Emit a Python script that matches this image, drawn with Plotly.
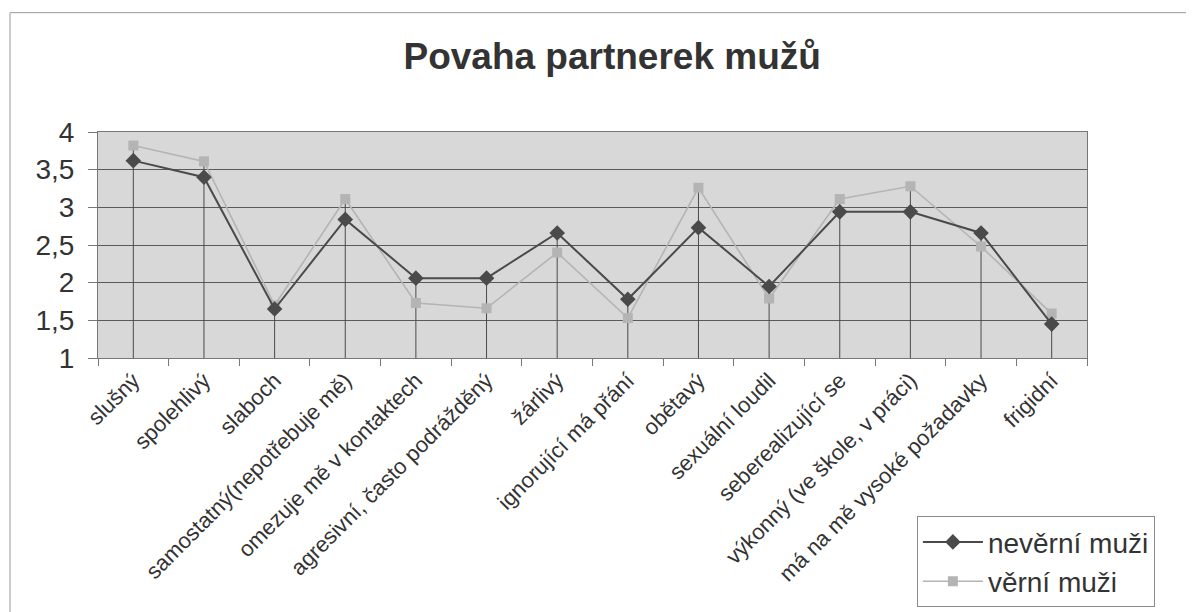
import plotly.graph_objects as go

# categories and values
kategorie = [
    "slušný",
    "spolehlivý",
    "slaboch",
    "samostatný(nepotřebuje mě)",
    "omezuje mě v kontaktech",
    "agresivní, často podrážděný",
    "žárlivý",
    "ignorující má přání",
    "obětavý",
    "sexuální loudil",
    "seberealizující se",
    "výkonný (ve škole, v práci)",
    "má na mě vysoké požadavky",
    "frigidní",
]
neverni = [3.62, 3.40, 1.65, 2.84, 2.06, 2.06, 2.66, 1.78, 2.73, 1.95, 2.94, 2.94, 2.66, 1.45]
verni = [3.82, 3.61, 1.70, 3.11, 1.73, 1.66, 2.40, 1.53, 3.26, 1.79, 3.11, 3.28, 2.48, 1.59]
y_ticks = [1, 1.5, 2, 2.5, 3, 3.5, 4]

FONT = "Arial, Liberation Sans, sans-serif"

# drop lines from the higher point of each category down to the axis
drop_x, drop_y = [], []
for k, a, b in zip(kategorie, neverni, verni):
    drop_x += [k, k, None]
    drop_y += [y_ticks[0], max(a, b), None]

fig = go.Figure()
fig.add_trace(go.Scatter(
    x=drop_x, y=drop_y, mode="lines",
    line=dict(color="#4a4a4a", width=1),
    showlegend=False, hoverinfo="skip",
))
fig.add_trace(go.Scatter(
    x=kategorie, y=verni, name="věrní muži", mode="lines+markers",
    line=dict(color="#b4b4b4", width=1.6),
    marker=dict(symbol="square", size=10, color="#b4b4b4"),
    legendrank=2,
))
fig.add_trace(go.Scatter(
    x=kategorie, y=neverni, name="nevěrní muži", mode="lines+markers",
    line=dict(color="#4a4a4a", width=2),
    marker=dict(symbol="diamond", size=12, color="#4a4a4a"),
    legendrank=1,
))

# the page body adds an 8px offset, so margins are shifted to compensate
fig.update_layout(
    width=1194, height=612,
    margin=dict(l=90, r=115, t=124, b=257),
    paper_bgcolor="white",
    plot_bgcolor="#d8d8d8",
    separators=", ",
    font=dict(family=FONT, color="#333333"),
    title=dict(
        text="<b>Povaha partnerek mužů</b>",
        x=0.506, xanchor="center", y=0.922, yanchor="middle",
        font=dict(family=FONT, size=37, color="#333333"),
        automargin=False,
    ),
    legend=dict(
        x=0.828, xanchor="left", y=-0.7, yanchor="top",
        bgcolor="white", bordercolor="#8a8a8a", borderwidth=1,
        font=dict(family=FONT, size=28, color="#333333"),
        itemwidth=60, tracegroupgap=0,
    ),
    showlegend=True,
)

fig.update_xaxes(
    type="category",
    range=[-0.5, len(kategorie) - 0.5],
    automargin=False,
    tickangle=-45,
    tickson="boundaries",
    ticks="outside", ticklen=7, tickcolor="#777777",
    showgrid=False, zeroline=False,
    showline=True, linecolor="#777777", linewidth=1, mirror=True,
    tickfont=dict(family=FONT, size=22, color="#333333"),
)
fig.update_yaxes(
    range=[1, 4], tickvals=y_ticks,
    automargin=False,
    ticks="outside", ticklen=9, tickcolor="#777777",
    showgrid=True, gridcolor="#5a5a5a", gridwidth=1,
    zeroline=False,
    showline=True, linecolor="#777777", linewidth=1, mirror=True,
    ticklabelstandoff=8,
    tickfont=dict(family=FONT, size=28, color="#333333"),
)

# outer chart border
fig.add_shape(
    type="rect", xref="paper", yref="paper",
    x0=-0.089, x1=1.12, y0=-1.15, y1=1.528,
    line=dict(color="#9a9a9a", width=1), layer="below",
)

fig.write_html("out.html")
